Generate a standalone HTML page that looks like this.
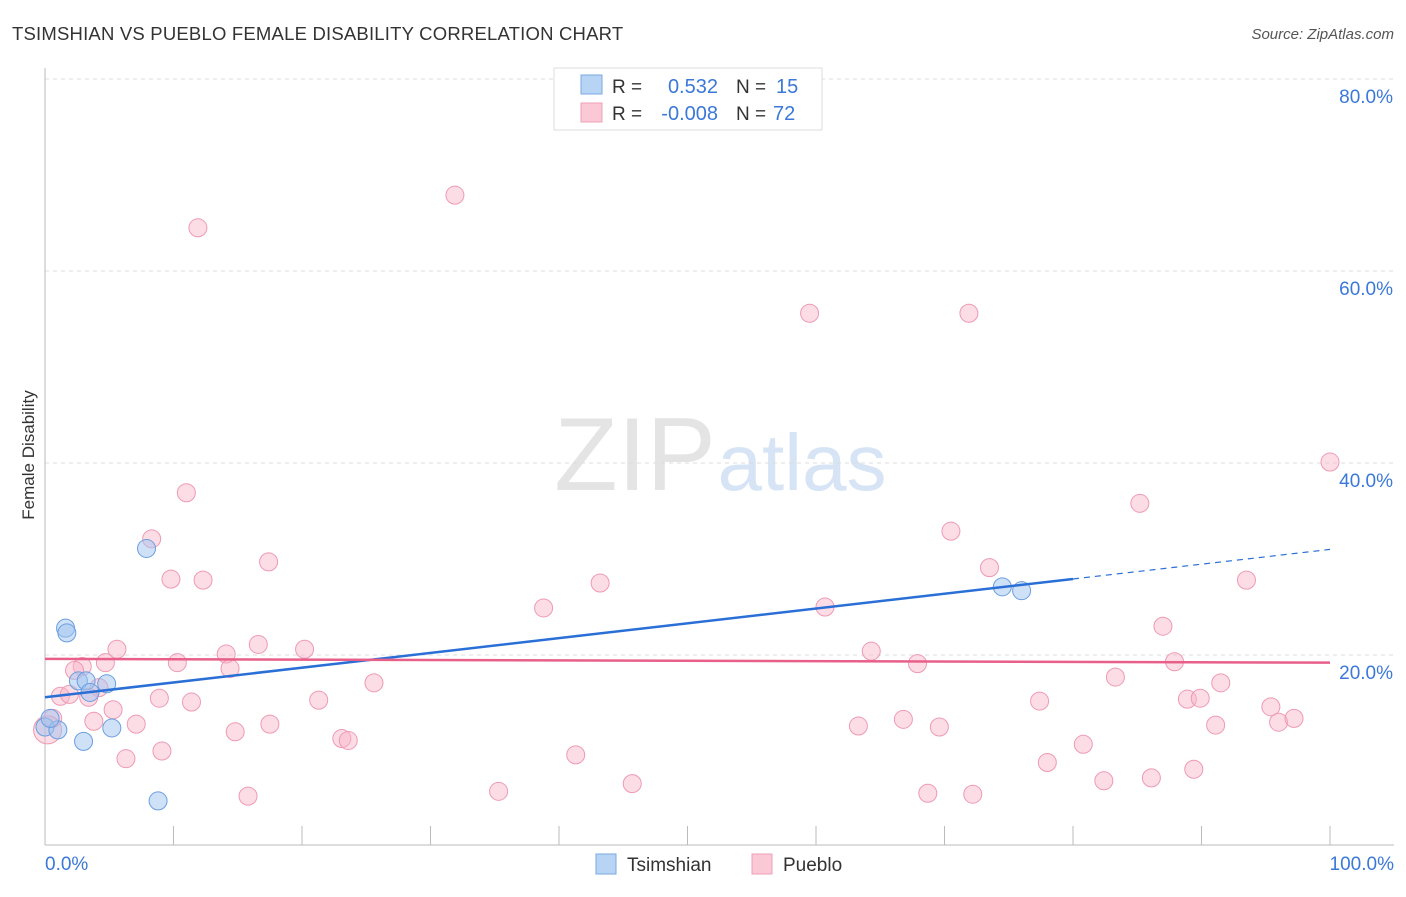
<!DOCTYPE html>
<html><head><meta charset="utf-8"><style>
body{margin:0;background:#fff;font-family:"Liberation Sans",sans-serif}
svg text{font-family:"Liberation Sans",sans-serif}
</style></head><body>
<svg id="chart" width="1406" height="892">
<text x="12" y="40" font-size="18.5" letter-spacing="0.2" fill="#333">TSIMSHIAN VS PUEBLO FEMALE DISABILITY CORRELATION CHART</text>
<text x="1394" y="39" font-size="15" fill="#555" font-style="italic" text-anchor="end">Source: ZipAtlas.com</text>
<text x="34" y="455" font-size="17" fill="#333" text-anchor="middle" transform="rotate(-90 34 455)">Female Disability</text>
<g><text x="635" y="490" font-size="104" fill="#e4e4e4" font-family="Liberation Serif" text-anchor="middle">ZIP</text><text x="802" y="490" font-size="80" fill="#d6e4f5" text-anchor="middle">atlas</text></g>
<g id="grid"></g><g id="axes"></g><g id="pts"></g><g id="lines"></g>
<g>
<rect x="554" y="68" width="268" height="62" fill="#fff" stroke="#ddd"/>
<rect x="581" y="75" width="21" height="19" fill="#b8d4f5" stroke="#7aa8e0"/>
<rect x="581" y="103" width="21" height="19" fill="#fbc8d6" stroke="#eea0b6"/>
<text x="612" y="93" font-size="19" fill="#333">R = </text><text x="718" y="93" font-size="20" fill="#3b78d8" text-anchor="end">0.532</text>
<text x="736" y="93" font-size="19" fill="#333">N = </text><text x="776" y="93" font-size="20" fill="#3b78d8">15</text>
<text x="612" y="120" font-size="19" fill="#333">R = </text><text x="718" y="120" font-size="20" fill="#3b78d8" text-anchor="end">-0.008</text>
<text x="736" y="120" font-size="19" fill="#333">N = </text><text x="773" y="120" font-size="20" fill="#3b78d8">72</text>
</g>
<g>
<rect x="596" y="854" width="20" height="20" fill="#b8d4f5" stroke="#7aa8e0"/>
<text x="627" y="871" font-size="19" fill="#333">Tsimshian</text>
<rect x="752" y="854" width="20" height="20" fill="#fbc8d6" stroke="#eea0b6"/>
<text x="783" y="871" font-size="19" fill="#333">Pueblo</text>
</g>
</svg>
<script>
const yTicks=[20,40,60,80];
const xTickLabels=["0.0%","100.0%"];
const tsimX=[0.0,1.0,1.6,1.7,2.6,3.2,3.5,4.8,3.0,5.2,7.9,8.8,74.5,76.0,0.4];
const tsimY=[12.5,12.2,22.8,22.3,17.3,17.3,16.1,17.0,11.0,12.4,31.1,4.8,27.1,26.7,13.4];
const puebX=[11.9,31.9,59.5,71.9,100,85.2,70.5,11.0,8.3,17.4,73.5,43.2,9.8,12.3,93.5,38.8,60.7,87.0,16.6,5.6,20.2,14.1,64.3,10.3,4.7,67.9,87.9,2.9,2.3,14.4,83.3,25.6,91.5,4.2,1.2,1.9,3.4,8.9,11.4,21.3,77.4,88.9,89.9,5.3,95.4,66.8,3.8,7.1,17.5,63.3,96.0,97.2,69.6,91.1,14.8,23.1,23.6,80.8,9.1,41.3,6.3,78.0,82.4,86.1,89.4,35.3,45.7,15.8,68.7,72.2,0.6,0.2];
const puebY=[64.5,67.9,55.6,55.6,40.1,35.8,32.9,36.9,32.1,29.7,29.1,27.5,27.9,27.8,27.8,24.9,25.0,23.0,21.1,20.6,20.6,20.1,20.4,19.2,19.2,19.1,19.3,18.8,18.4,18.6,17.7,17.1,17.1,16.6,15.7,15.9,15.6,15.5,15.1,15.3,15.2,15.4,15.5,14.3,14.6,13.3,13.1,12.8,12.8,12.6,13.0,13.4,12.5,12.7,12.0,11.3,11.1,10.7,10.0,9.6,9.2,8.8,6.9,7.2,8.1,5.8,6.6,5.3,5.6,5.5,13.4,12.2];
const tsimLine=[15.6,31.0];
const puebLine=[19.6,19.2];
const NS="http://www.w3.org/2000/svg";
const X=v=>45+v*12.85, Y=v=>847-v*9.6;
function mk(p,t,a){const e=document.createElementNS(NS,t);for(const k in a)e.setAttribute(k,a[k]);p.appendChild(e);return e;}
const grid=document.getElementById('grid'),axes=document.getElementById('axes'),pts=document.getElementById('pts'),lines=document.getElementById('lines');
yTicks.forEach(t=>{
 const l=mk(grid,'line',{x1:45,x2:1394,y1:Y(t),y2:Y(t),stroke:'#ddd','stroke-dasharray':'4,4'});
 
 
 const tx=mk(axes,'text',{x:1393,y:Y(t)+24,'font-size':19,fill:'#3b78d8','text-anchor':'end'});tx.textContent=t.toFixed(1)+'%';
 
 
});
mk(axes,'line',{x1:45,x2:45,y1:68,y2:845,stroke:'#bbb'});
const xa=mk(axes,'line',{x1:45,x2:1394,y1:845,y2:845,stroke:'#bbb'});


for(let i=1;i<=10;i++)mk(axes,'line',{x1:X(i*10),x2:X(i*10),y1:826,y2:845,stroke:'#bbb'});
[[0,'start',45],[100,'end',1394]].forEach((d,i)=>{const t=mk(axes,'text',{x:d[2],y:870,'font-size':19,fill:'#3b78d8','text-anchor':d[1]});t.textContent=xTickLabels[i];
 
 });
puebX.forEach((v,i)=>{const c=mk(pts,'circle',{cx:X(v),cy:Y(puebY[i]),r:i==puebX.length-1?14:9,fill:'rgba(248,180,200,0.45)',stroke:'#ee9ab4','stroke-width':1});
 
 });
tsimX.forEach((v,i)=>{const c=mk(pts,'circle',{cx:X(v),cy:Y(tsimY[i]),r:9,fill:'rgba(160,195,240,0.5)',stroke:'#6a9ee0','stroke-width':1});
 
 });
const ty=x=>tsimLine[0]+(tsimLine[1]-tsimLine[0])*x/100;
const b1=mk(lines,'line',{x1:X(0),y1:Y(ty(0)),x2:X(80),y2:Y(ty(80)),stroke:'#2a6fd6','stroke-width':2.5});


mk(lines,'line',{x1:X(80),y1:Y(ty(80)),x2:X(100),y2:Y(ty(100)),stroke:'#2a6fd6','stroke-width':1.2,'stroke-dasharray':'6,5'});
const p1=mk(lines,'line',{x1:X(0),y1:Y(puebLine[0]),x2:X(100),y2:Y(puebLine[1]),stroke:'#e8608a','stroke-width':2.5});


</script>
</body></html>
